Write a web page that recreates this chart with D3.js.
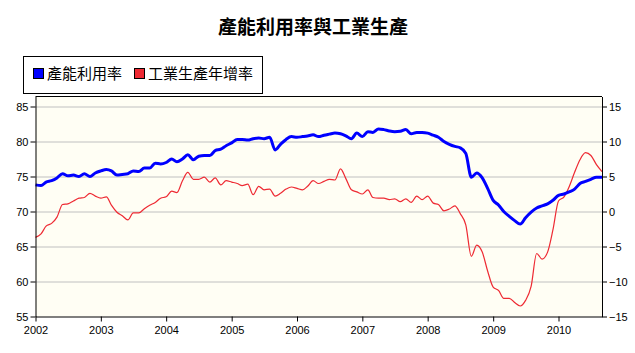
<!DOCTYPE html>
<html>
<head>
<meta charset="utf-8">
<script src="https://cdn.jsdelivr.net/npm/d3@7"></script>
<style>
  body { margin: 0; background: #fff; }
  svg { display: block; }
</style>
</head>
<body>
<div id="vis"></div>
<script>
// monthly, Jan 2002 .. Sep 2010
const startDate = new Date(2002, 0, 1)

const capacityUtil = [
  73.8, 73.7, 74.2, 74.4, 74.8, 75.4, 75.1, 75.2, 75.0, 75.4, 75.0, 75.5,
  75.8, 76.0, 75.8, 75.2, 75.3, 75.4, 75.8, 75.7, 76.2, 76.2, 76.9, 76.8,
  77.0, 77.5, 77.1, 77.5, 78.1, 77.4, 77.9, 78.0, 78.0, 78.7, 78.9, 79.4,
  79.8, 80.3, 80.3, 80.2, 80.4, 80.5, 80.4, 80.6, 78.8, 79.6, 80.3, 80.7,
  80.6, 80.7, 80.8, 80.95, 80.7, 80.9, 81.05, 81.2, 81.1, 80.8, 80.4, 81.2,
  80.7, 81.4, 81.3, 81.8, 81.7, 81.5, 81.4, 81.45, 81.7, 81.1, 81.3, 81.3,
  81.2, 80.9, 80.6, 80.0, 79.6, 79.3, 79.1, 78.3, 74.9, 75.5, 74.8, 73.3,
  71.6, 70.9, 70.0, 69.3, 68.7, 68.2, 69.1, 69.9, 70.5, 70.8, 71.1, 71.6,
  72.3, 72.5, 72.8, 73.2, 74.0, 74.3, 74.6, 74.9, 74.9
]

const ipGrowth = [
  -3.7, -3.2, -2.1, -1.7, -0.8, 1.0, 1.1, 1.5, 1.9, 2.0, 2.6, 2.2,
  1.9, 2.1, 0.9, -0.1, -0.6, -1.2, -0.2, -0.2, 0.4, 0.9, 1.3, 1.9,
  2.1, 2.9, 2.7, 4.4, 5.6, 4.6, 4.6, 4.9, 4.2, 4.8, 3.8, 4.4,
  4.2, 4.0, 3.7, 3.9, 2.4, 3.6, 3.1, 3.2, 2.2, 2.6, 3.2, 3.5,
  3.3, 3.1, 3.6, 4.4, 4.0, 4.3, 4.6, 4.5, 6.1, 4.7, 3.1, 2.8,
  2.5, 3.1, 2.0, 1.9, 1.9, 1.7, 1.8, 1.4, 1.8, 1.3, 2.2, 1.7,
  2.2, 1.2, 1.0, 0.1, 0.35, 0.8, -0.3, -1.9, -6.4, -4.8, -5.8, -8.5,
  -10.8, -11.3, -12.4, -12.4, -13.0, -13.5, -12.7, -10.7, -6.0, -6.8, -5.8, -2.6,
  1.5, 2.1, 3.5, 5.6, 7.4, 8.4, 8.0, 6.7, 5.7
]

const leftTicks = [55, 60, 65, 70, 75, 80, 85]
const rightTicks = [-15, -10, -5, 0, 5, 10, 15]
const yearTicks = [2002, 2003, 2004, 2005, 2006, 2007, 2008, 2009, 2010]

const titleText = '產能利用率與工業生產'
const seriesNames = ['產能利用率', '工業生產年增率']
const seriesColors = ['#0000ff', '#ee2a33']

const width = 635
const height = 353
const margin = { left: 35.5, top: 96.5, right: 33, bottom: 36.5 }
const innerWidth = width - margin.left - margin.right
const innerHeight = height - margin.top - margin.bottom

const dates = capacityUtil.map((d, i) => d3.timeMonth.offset(startDate, i))

const svg = d3.select('#vis').append('svg')
  .attr('width', width)
  .attr('height', height)

// title
svg.append('text')
  .attr('x', 313)
  .attr('y', 34)
  .attr('text-anchor', 'middle')
  .style('font-family', '"Noto Sans CJK TC", sans-serif')
  .style('font-weight', 'bold')
  .style('font-size', '19px')
  .style('fill', '#000')
  .text(titleText)

// legend
const legend = svg.append('g')
legend.append('rect')
  .attr('x', 23.5).attr('y', 56.5)
  .attr('width', 239).attr('height', 37)
  .style('fill', '#fff').style('stroke', '#000')

const legendX = [33, 134]
seriesNames.forEach((name, i) => {
  legend.append('rect')
    .attr('x', legendX[i] + 0.5).attr('y', 68.5)
    .attr('width', 10).attr('height', 10)
    .style('fill', seriesColors[i]).style('stroke', '#000')
  legend.append('text')
    .attr('x', legendX[i] + 14)
    .attr('y', 79)
    .style('font-family', '"Noto Sans CJK TC", sans-serif')
    .style('font-size', '15px')
    .style('fill', '#000')
    .text(name)
})

const g = svg.append('g')
  .attr('transform', `translate(${margin.left},${margin.top})`)

const xScale = d3.scaleTime()
  .domain([startDate, dates[dates.length - 1]])
  .range([0, innerWidth])

const yLeft = d3.scaleLinear()
  .domain([55, 55 + innerHeight / 7])
  .range([innerHeight, 0])

const yRight = d3.scaleLinear()
  .domain([-15, -15 + innerHeight / 7])
  .range([innerHeight, 0])

// plot background
g.append('rect')
  .attr('width', innerWidth).attr('height', innerHeight)
  .style('fill', '#fffef4')

// grid
g.append('g')
  .selectAll('line')
  .data(leftTicks.slice(1))
  .enter()
  .append('line')
  .attr('x1', 0).attr('x2', innerWidth)
  .attr('y1', d => Math.round(yLeft(d)) + 0.5)
  .attr('y2', d => Math.round(yLeft(d)) + 0.5)
  .style('stroke', '#c0c0c0')

// lines
const lineLeft = d3.line()
  .x((d, i) => xScale(dates[i]))
  .y(d => yLeft(d))
  .curve(d3.curveMonotoneX)

const lineRight = d3.line()
  .x((d, i) => xScale(dates[i]))
  .y(d => yRight(d))
  .curve(d3.curveMonotoneX)

g.append('path')
  .datum(ipGrowth)
  .attr('d', lineRight)
  .style('fill', 'none')
  .style('stroke', seriesColors[1])
  .style('stroke-width', 1.2)

g.append('path')
  .datum(capacityUtil)
  .attr('d', lineLeft)
  .style('fill', 'none')
  .style('stroke', seriesColors[0])
  .style('stroke-width', 3)
  .style('stroke-linejoin', 'round')

// frame top
g.append('line')
  .attr('x1', 0).attr('x2', innerWidth)
  .attr('y1', 0).attr('y2', 0)
  .style('stroke', '#000')

// axes
const xAxis = d3.axisBottom(xScale)
  .tickValues(yearTicks.map(y => new Date(y, 0, 1)))
  .tickFormat(d3.timeFormat('%Y'))
  .tickSize(5)
  .tickSizeOuter(0)

const leftAxis = d3.axisLeft(yLeft).tickValues(leftTicks).tickSize(5).tickSizeOuter(0)
const rightAxis = d3.axisRight(yRight).tickValues(rightTicks).tickSize(5).tickSizeOuter(0)

const xAxisG = g.append('g')
  .attr('transform', `translate(0,${innerHeight})`)
  .call(xAxis)
const leftAxisG = g.append('g').call(leftAxis)
const rightAxisG = g.append('g')
  .attr('transform', `translate(${innerWidth},0)`)
  .call(rightAxis)

;[xAxisG, leftAxisG, rightAxisG].forEach(a => {
  a.selectAll('.domain').style('stroke', '#000')
  a.selectAll('.tick line').style('stroke', '#000')
  a.selectAll('text')
    .style('font-family', '"Liberation Sans", Arial, sans-serif')
    .style('font-size', '11px')
    .style('fill', '#000')
})
xAxisG.selectAll('text').attr('dy', '0.9em')
leftAxisG.selectAll('text').attr('x', -7)
rightAxisG.selectAll('text').attr('x', 7)
</script>
</body>
</html>
